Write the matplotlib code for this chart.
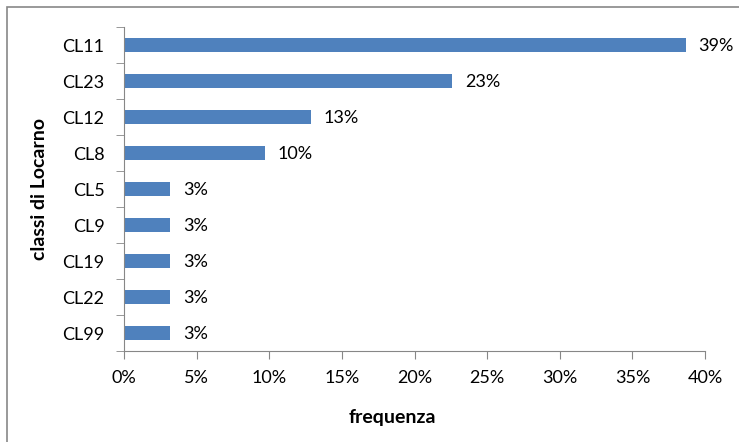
import matplotlib
matplotlib.use("Agg")
from matplotlib import pyplot as plt
from matplotlib.patches import Rectangle
from matplotlib.ticker import FixedLocator, NullFormatter

classi = ["CL11", "CL23", "CL12", "CL8", "CL5", "CL9", "CL19", "CL22", "CL99"]
frequenza = [38.7, 22.6, 12.9, 9.7, 3.2, 3.2, 3.2, 3.2, 3.2]
etichette = ["39%", "23%", "13%", "10%", "3%", "3%", "3%", "3%", "3%"]
xticks = [0, 5, 10, 15, 20, 25, 30, 35, 40]

plt.rcParams["font.family"] = ["Lato", "DejaVu Sans"]

fig = plt.figure(figsize=(7.39, 4.42), dpi=100)
ax = fig.add_axes([124/739, 1-351/442, 581/739, 324/442])

# grey frame of the chart area (cut at the right/bottom edges)
fig.patches.append(Rectangle((7/739, -0.1), 1.2, 1-7/442+0.1, transform=fig.transFigure,
                             fill=False, edgecolor="#878787", linewidth=1.2))

pos = list(range(len(classi)))[::-1]
ax.barh(pos, frequenza, height=0.4, color="#4F81BD")
for p, v, t in zip(pos, frequenza, etichette):
    ax.annotate(t, (v, p), xytext=(9, -1), textcoords="offset points",
                va="center", ha="left", fontsize=13)

ax.set_xlim(0, 40)
ax.set_ylim(-0.5, len(classi)-0.5)
ax.set_xticks(xticks)
ax.set_xticklabels([f"{x}%" for x in xticks], fontsize=13)
ax.set_yticks(pos)
ax.set_yticklabels(classi, fontsize=13)
ax.tick_params(axis="y", length=0, pad=14)
ax.yaxis.set_minor_locator(FixedLocator([i-0.5 for i in range(len(classi)+1)]))
ax.yaxis.set_minor_formatter(NullFormatter())
ax.tick_params(axis="y", which="minor", length=6, color="#878787")
ax.tick_params(axis="x", length=6, color="#878787", pad=8)
for s in ["top", "right"]:
    ax.spines[s].set_visible(False)
for s in ["left", "bottom"]:
    ax.spines[s].set_color("#878787")

ax.set_xlabel("frequenza", fontsize=14, fontweight="bold")
ax.xaxis.set_label_coords((392-124)/581, -0.18)
ax.set_ylabel("classi di Locarno", fontsize=14, fontweight="bold", labelpad=10)

fig.savefig("out.png", dpi=100)
